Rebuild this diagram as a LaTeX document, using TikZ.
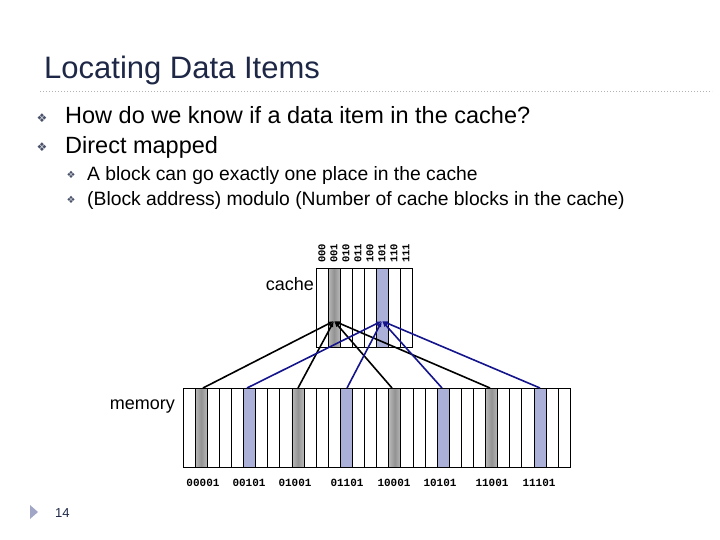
\documentclass[tikz,border=0pt]{standalone}
\usepackage{fontspec}
\setmainfont{Liberation Sans}
\setmonofont{Liberation Mono}
\newfontfamily\dej{DejaVu Sans}
\usetikzlibrary{arrows.meta}
\definecolor{bl}{RGB}{170,176,216}
\definecolor{nav}{RGB}{20,20,140}
\definecolor{ttl}{RGB}{30,40,70}
\tikzset{
 cell/.style={draw=black,line width=0.8pt},
 gcell/.style={cell,left color=gray!55,right color=gray!55,middle color=gray!85},
 bcell/.style={cell,fill=bl},
 kline/.style={black,line width=1.6pt,-{Latex[length=6pt]}},
 bline/.style={nav,line width=1.6pt,-{Latex[length=6pt]}},
 lab/.style={font=\ttfamily\bfseries\fontsize{10.5}{10.5}\selectfont,rotate=90,anchor=west,inner sep=0pt},
 bul/.style={font=\dej\fontsize{12}{12}\selectfont,text=ttl!80},
}
\begin{document}
\begin{tikzpicture}[x=1pt,y=-1pt]
\useasboundingbox (0,0) rectangle (720,540);
\node[anchor=base west,inner sep=0pt,font=\fontsize{31}{31}\selectfont,text=ttl] (title) at (44,79) {Locating Data Items};
\draw[gray!60,dash pattern=on 1pt off 2pt,line width=0.8pt] (40,91) -- (712,91);
\node[bul] (b1) at (42,118) {❖};
\node[bul] (b2) at (42,147) {❖};
\node[anchor=base west,inner sep=0pt,font=\fontsize{23.5}{23.5}\selectfont] (t1) at (65,124) {How do we know if a data item in the cache?};
\node[anchor=base west,inner sep=0pt,font=\fontsize{23.5}{23.5}\selectfont] (t2) at (65,154) {Direct mapped};
\node[bul,font=\dej\fontsize{10}{10}\selectfont] (s1) at (71,175) {❖};
\node[bul,font=\dej\fontsize{10}{10}\selectfont] (s2) at (71,200) {❖};
\node[anchor=base west,inner sep=0pt,font=\fontsize{19.3}{19.3}\selectfont] (t3) at (87,181) {A block can go exactly one place in the cache};
\node[anchor=base west,inner sep=0pt,font=\fontsize{19.3}{19.3}\selectfont] (t4) at (87,206) {(Block address) modulo (Number of cache blocks in the cache)};
% cache
\foreach \i in {0,...,7}{
  \pgfmathsetmacro\xa{316+12*\i}
  \ifnum\i=1 \def\st{gcell}\else\ifnum\i=5 \def\st{bcell}\else\def\st{cell}\fi\fi
  \path[\st] (\xa,268) rectangle ++(12,79);
}
\draw[cell] (316,268) rectangle (412,347);
\foreach \l [count=\i from 0] in {000,001,010,011,100,101,110,111}
  \node[lab] (c\i) at (322+12*\i,263) {\l};
\node[anchor=base east,inner sep=0pt,font=\fontsize{18}{18}\selectfont] (cl) at (314,290) {cache};
% memory
\foreach \i in {0,...,31}{
  \pgfmathsetmacro\xa{183+12.1*\i}
  \pgfmathtruncatemacro\m{mod(\i,8)}
  \ifnum\m=1 \def\st{gcell}\else\ifnum\m=5 \def\st{bcell}\else\def\st{cell}\fi\fi
  \path[\st] (\xa,388) rectangle ++(12.1,79);
}
\draw[cell] (183,388) rectangle (570.2,467);
\node[anchor=base east,inner sep=0pt,font=\fontsize{18}{18}\selectfont] (ml) at (175,409) {memory};
\foreach \l/\x in {00001/203,00101/249,01001/295,01101/347,10001/394,10101/440,11001/492,11101/539}
  \node[font=\ttfamily\bfseries\fontsize{11}{11}\selectfont,inner sep=0pt] (m\l) at (\x,483) {\l};
% connectors
\coordinate (ck) at (334,321);
\coordinate (cb) at (382,321);
\foreach \x in {203,298,392,490}{ \coordinate (mk) at (\x,388); \draw[kline] (mk) -- (ck); }
\foreach \x in {247,347,442,540}{ \coordinate (mb) at (\x,388); \draw[bline] (mb) -- (cb); }
% footer
\fill[bl!80!gray] (30,505) -- (38,512) -- (30,519) -- cycle;
\node[anchor=west,inner sep=0pt,font=\fontsize{13}{13}\selectfont,text=ttl] (pg) at (55,513) {14};
\end{tikzpicture}
\end{document}
